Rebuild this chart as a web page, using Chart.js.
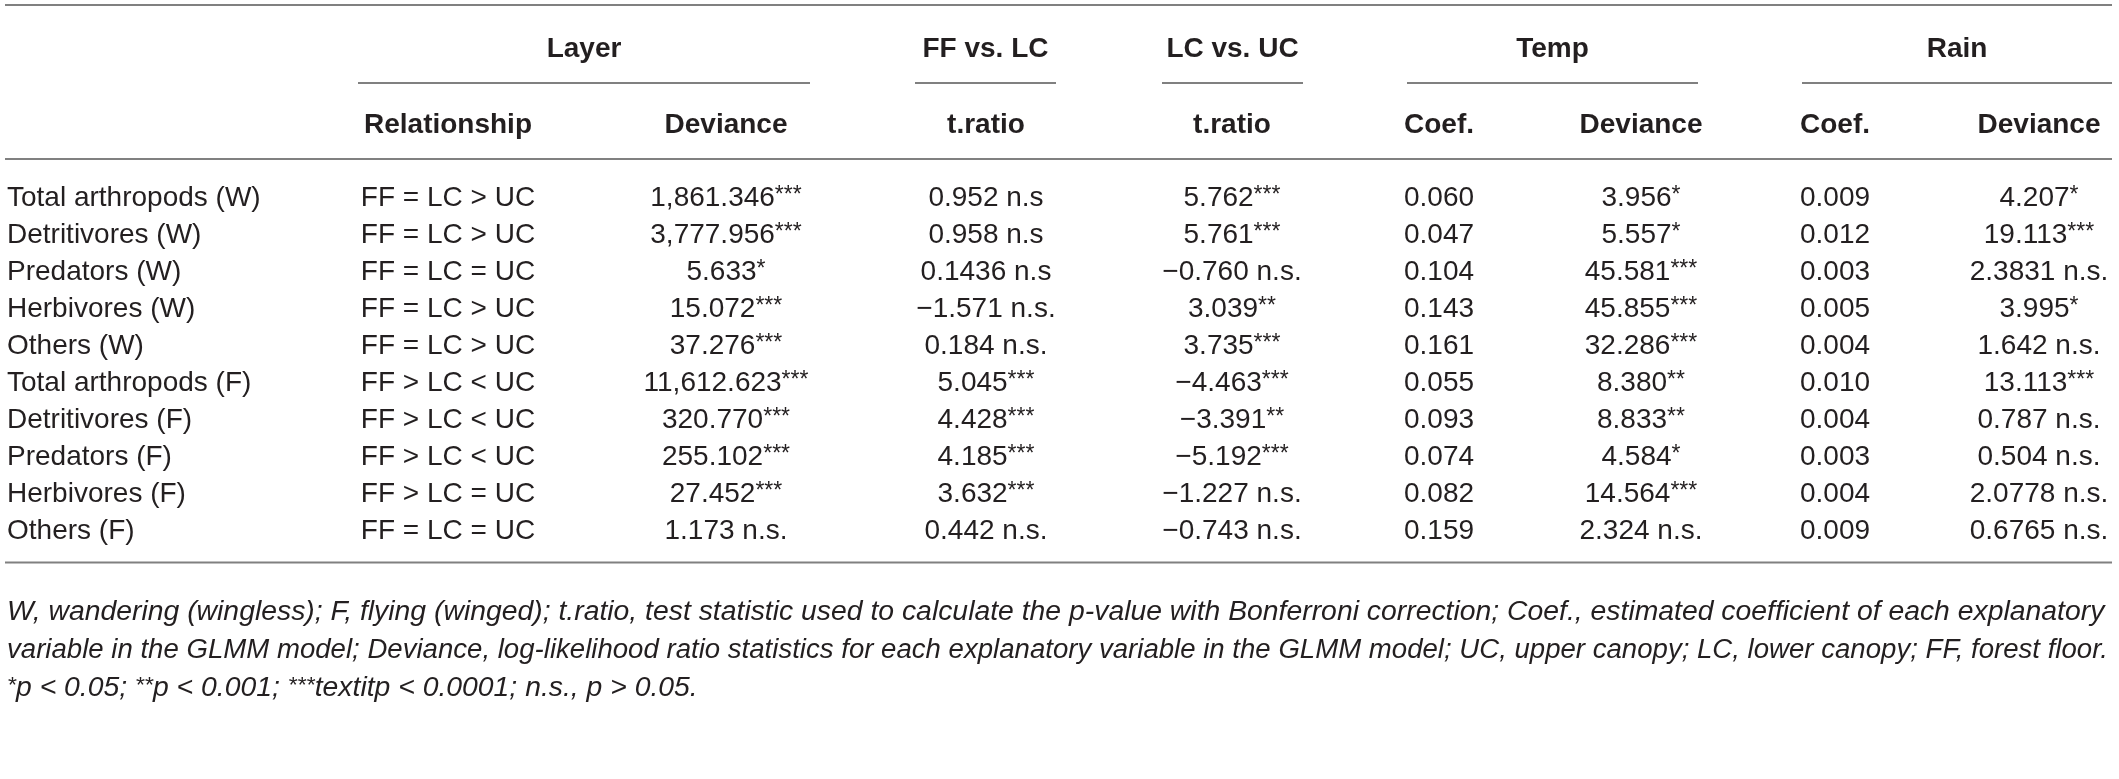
<!DOCTYPE html>
<html>
<head>
<meta charset="utf-8">
<script src="https://cdn.jsdelivr.net/npm/chart.js@4.4.1/dist/chart.umd.min.js"></script>
<style>
  html, body { margin: 0; padding: 0; background: #fff; }
  canvas { display: block; }
</style>
</head>
<body>
<canvas id="tableChart" width="2119" height="779"></canvas>
<script>
// Table values, one array per column
const rowLabels = [
  'Total arthropods (W)', 'Detritivores (W)', 'Predators (W)', 'Herbivores (W)', 'Others (W)',
  'Total arthropods (F)', 'Detritivores (F)', 'Predators (F)', 'Herbivores (F)', 'Others (F)'
];
const relationship = [
  'FF = LC > UC', 'FF = LC > UC', 'FF = LC = UC', 'FF = LC > UC', 'FF = LC > UC',
  'FF > LC < UC', 'FF > LC < UC', 'FF > LC < UC', 'FF > LC = UC', 'FF = LC = UC'
];
const layerDeviance = [
  '1,861.346***', '3,777.956***', '5.633*', '15.072***', '37.276***',
  '11,612.623***', '320.770***', '255.102***', '27.452***', '1.173 n.s.'
];
const ffVsLc = [
  '0.952 n.s', '0.958 n.s', '0.1436 n.s', '\u22121.571 n.s.', '0.184 n.s.',
  '5.045***', '4.428***', '4.185***', '3.632***', '0.442 n.s.'
];
const lcVsUc = [
  '5.762***', '5.761***', '\u22120.760 n.s.', '3.039**', '3.735***',
  '\u22124.463***', '\u22123.391**', '\u22125.192***', '\u22121.227 n.s.', '\u22120.743 n.s.'
];
const tempCoef = ['0.060', '0.047', '0.104', '0.143', '0.161', '0.055', '0.093', '0.074', '0.082', '0.159'];
const tempDeviance = [
  '3.956*', '5.557*', '45.581***', '45.855***', '32.286***',
  '8.380**', '8.833**', '4.584*', '14.564***', '2.324 n.s.'
];
const rainCoef = ['0.009', '0.012', '0.003', '0.005', '0.004', '0.010', '0.004', '0.003', '0.004', '0.009'];
const rainDeviance = [
  '4.207*', '19.113***', '2.3831 n.s.', '3.995*', '1.642 n.s.',
  '13.113***', '0.787 n.s.', '0.504 n.s.', '2.0778 n.s.', '0.6765 n.s.'
];

const groupHeaders = ['Layer', 'FF vs. LC', 'LC vs. UC', 'Temp', 'Rain'];
const subHeaders = ['Relationship', 'Deviance', 't.ratio', 't.ratio', 'Coef.', 'Deviance', 'Coef.', 'Deviance'];
const footnotes = [
  'W, wandering (wingless); F, flying (winged); t.ratio, test statistic used to calculate the p-value with Bonferroni correction; Coef., estimated coefficient of each explanatory',
  'variable in the GLMM model; Deviance, log-likelihood ratio statistics for each explanatory variable in the GLMM model; UC, upper canopy; LC, lower canopy; FF, forest floor.',
  '*p < 0.05; **p < 0.001; ***textitp < 0.0001; n.s., p > 0.05.'
];

const columns = [rowLabels, relationship, layerDeviance, ffVsLc, lcVsUc, tempCoef, tempDeviance, rainCoef, rainDeviance];

// Layout (x in scale units = canvas px)
const colX = [7, 448, 726, 986, 1232, 1439, 1641, 1835, 2039];
const colAlign = ['left', 'center', 'center', 'center', 'center', 'center', 'center', 'center', 'center'];
const groupSpans = [[358, 810], [915, 1056], [1162, 1303], [1407, 1698], [1802, 2112]];
const L = { topRule: 5, groupY: 47, underlineY: 83, subY: 123, headRule: 159, footRuleGap: 15, footY: [610, 648, 686] };

const TEXT = '#231f20';
const RULE = '#808080';
const FONT = '28px "Liberation Sans", Arial, sans-serif';
const BOLD = 'bold 28px "Liberation Sans", Arial, sans-serif';
const STAR = '23px "Liberation Sans", Arial, sans-serif';
const ITAL = 'italic 27px "Liberation Sans", Arial, sans-serif';
const ITAL_STAR = 'italic 22px "Liberation Sans", Arial, sans-serif';

const cellPoints = [];
const cellTexts = [];
const cellAligns = [];
columns.forEach((col, j) => {
  col.forEach((txt, i) => {
    cellPoints.push({ x: colX[j], y: rowLabels[i] });
    cellTexts.push(txt);
    cellAligns.push(colAlign[j]);
  });
});

// text with raised asterisks, y is the vertical middle of the line
function drawRich(ctx, str, x, y, align, font, starFont) {
  const parts = str.split(/(\*+)/).filter(s => s.length);
  let w = 0;
  parts.forEach(p => { ctx.font = p[0] === '*' ? starFont : font; w += ctx.measureText(p).width; });
  let cx = align === 'left' ? x : (align === 'right' ? x - w : x - w / 2);
  const base = y + 10;
  parts.forEach(p => {
    const star = p[0] === '*';
    ctx.font = star ? starFont : font;
    ctx.fillText(p, cx, star ? base - 4 : base);
    cx += ctx.measureText(p).width;
  });
  return w;
}

function hline(ctx, x1, x2, y) {
  ctx.beginPath();
  ctx.moveTo(x1, y);
  ctx.lineTo(x2, y);
  ctx.stroke();
}

const tablePlugin = {
  id: 'tableText',
  afterDatasetsDraw(chart) {
    const ctx = chart.ctx;
    const xs = chart.scales.x;
    const ys = chart.scales.y;
    const meta = chart.getDatasetMeta(0);
    ctx.save();
    ctx.textBaseline = 'alphabetic';
    ctx.fillStyle = TEXT;
    ctx.strokeStyle = RULE;
    ctx.lineWidth = 2;

    const left = xs.getPixelForValue(5);
    const right = xs.getPixelForValue(2112);
    hline(ctx, left, right, L.topRule);
    hline(ctx, left, right, L.headRule);

    // group headers + underlines
    ctx.font = BOLD;
    groupHeaders.forEach((h, k) => {
      const a = xs.getPixelForValue(groupSpans[k][0]);
      const b = xs.getPixelForValue(groupSpans[k][1]);
      ctx.textAlign = 'center';
      ctx.fillText(h, (a + b) / 2, L.groupY + 10);
      hline(ctx, a, b, L.underlineY);
    });
    ctx.textAlign = 'left';
    subHeaders.forEach((h, k) => {
      drawRich(ctx, h, xs.getPixelForValue(colX[k + 1]), L.subY, 'center', BOLD, BOLD);
    });

    // body cells at the scale positions of each point
    ctx.fillStyle = TEXT;
    meta.data.forEach((pt, k) => {
      drawRich(ctx, cellTexts[k], pt.x, pt.y, cellAligns[k], FONT, STAR);
    });

    const last = ys.getPixelForValue(rowLabels.length - 1);
    const band = ys.getPixelForValue(1) - ys.getPixelForValue(0);
    const footRule = last + band / 2 + L.footRuleGap;
    hline(ctx, left, right, footRule);

    // footnotes, squeezed to the table width
    const targets = [2112, 2108, null];
    ctx.font = ITAL;
    const w0 = ctx.measureText(footnotes[0]).width;
    const sq0 = (targets[0] - 7) / w0;
    footnotes.forEach((line, k) => {
      ctx.font = ITAL;
      const sq = targets[k] ? (targets[k] - 7) / ctx.measureText(line).width : sq0;
      ctx.save();
      ctx.translate(7, 0);
      ctx.scale(Math.min(sq, 1.05), 1);
      drawRich(ctx, line, 0, L.footY[k], 'left', ITAL, ITAL_STAR);
      ctx.restore();
    });
    ctx.restore();
  }
};

const ctx = document.getElementById('tableChart').getContext('2d');
const rowBand = 37;
const firstRowY = 196;
const tableChart = new Chart(ctx, {
  type: 'scatter',
  data: {
    datasets: [{
      label: 'cells',
      data: cellPoints,
      pointRadius: 0,
      pointHoverRadius: 0,
      showLine: false
    }]
  },
  options: {
    responsive: false,
    animation: false,
    devicePixelRatio: 1,
    events: [],
    layout: {
      padding: {
        left: 0,
        right: 0,
        top: firstRowY - rowBand / 2,
        bottom: 779 - (firstRowY - rowBand / 2 + rowBand * rowLabels.length)
      }
    },
    scales: {
      x: { type: 'linear', min: 0, max: 2119, display: false },
      y: { type: 'category', labels: rowLabels, offset: true, display: false }
    },
    plugins: {
      legend: { display: false },
      tooltip: { enabled: false }
    }
  },
  plugins: [tablePlugin]
});
</script>
</body>
</html>
